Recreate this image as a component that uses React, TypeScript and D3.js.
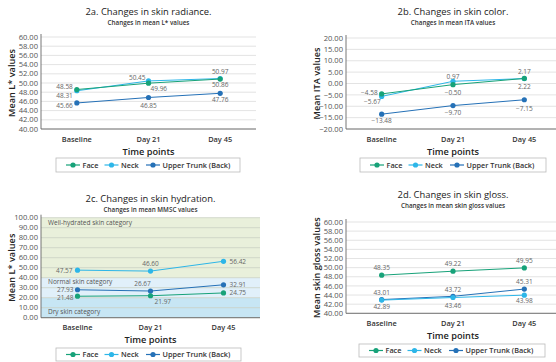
import React from "react";
import * as d3 from "d3";

const timePoints = ["Baseline", "Day 21", "Day 45"];
const seriesNames = ["Face", "Neck", "Upper Trunk (Back)"];
const seriesColors = ["#17a279", "#2db6e8", "#2571b7"];

// 2a. radiance (mean L*)
const radianceFace = [48.58, 49.96, 50.86];
const radianceNeck = [48.31, 50.45, 50.97];
const radianceTrunk = [45.66, 46.85, 47.76];
const radianceTicks = [40, 42, 44, 46, 48, 50, 52, 54, 56, 58, 60];

// 2b. color (mean ITA)
const colorFace = [-4.58, -0.5, 2.22];
const colorNeck = [-5.67, 0.97, 2.17];
const colorTrunk = [-13.48, -9.7, -7.15];
const colorTicks = [-20, -15, -10, -5, 0, 5, 10, 15, 20];

// 2c. hydration (mean MMSC)
const hydrationFace = [21.48, 21.97, 24.75];
const hydrationNeck = [47.57, 46.6, 56.42];
const hydrationTrunk = [27.93, 26.67, 32.91];
const hydrationTicks = [0, 10, 20, 30, 40, 50, 60, 70, 80, 90, 100];
const hydrationCategories = ["Dry skin category", "Normal skin category", "Well-hydrated skin category"];
const hydrationLimits = [0, 20, 40, 100];

// 2d. gloss
const glossFace = [48.35, 49.22, 49.95];
const glossNeck = [42.89, 43.46, 43.98];
const glossTrunk = [43.01, 43.72, 45.31];
const glossTicks = [40, 42, 44, 46, 48, 50, 52, 54, 56, 58, 60];

const FONT = "'Open Sans', sans-serif";
const fmt = d3.format(".2f");

type Pos = [number, number, string]; // dx, dy, anchor

const panels = [
  {
    title: "2a. Changes in skin radiance.",
    subtitle: "Changes in mean L* values",
    yTitle: "Mean L* values",
    series: [radianceFace, radianceNeck, radianceTrunk],
    ticks: radianceTicks,
    left: 41, right: 256, top: 37, bottom: 129,
    titleY: 15, subY: 25, xTickY: 139, xTitleY: 152, yTitleX: 12,
    legend: [56, 158, 184, 14],
    labels: [
      [[-4, -2.5, "end"], [2, 6, "start"], [0, 6, "middle"]],
      [[-4, 5, "end"], [-3, -3, "end"], [0, -7, "middle"]],
      [[-4, 3, "end"], [0, 8, "middle"], [0, 6, "middle"]],
    ] as Pos[][],
  },
  {
    title: "2b. Changes in skin color.",
    subtitle: "Changes in mean ITA values",
    yTitle: "Mean ITA values",
    series: [colorFace, colorNeck, colorTrunk],
    ticks: colorTicks,
    left: 346, right: 560, top: 38, bottom: 129,
    titleY: 15, subY: 25, xTickY: 139, xTitleY: 152, yTitleX: 317,
    legend: [360, 158, 186, 14],
    labels: [
      [[-4, -1, "end"], [0, 8, "middle"], [0, 8, "middle"]],
      [[-1, 5, "end"], [0, -5, "middle"], [0, -7, "middle"]],
      [[0, 7, "middle"], [0, 7, "middle"], [0, 9, "middle"]],
    ] as Pos[][],
  },
  {
    title: "2c. Changes in skin hydration.",
    subtitle: "Changes in mean MMSC values",
    yTitle: "Mean L* values",
    series: [hydrationFace, hydrationNeck, hydrationTrunk],
    ticks: hydrationTicks,
    left: 41, right: 260, top: 217.7, bottom: 317.7,
    titleY: 202, subY: 212, xTickY: 327, xTitleY: 340, yTitleX: 12,
    legend: [56, 348, 185, 13],
    bands: true,
    labels: [
      [[-4, 1.5, "end"], [4, 6, "start"], [6, 0, "start"]],
      [[-5, 1, "end"], [0, -7, "middle"], [6, 0, "start"]],
      [[-4, 0, "end"], [-8, -7, "middle"], [6, 0, "start"]],
    ] as Pos[][],
  },
  {
    title: "2d. Changes in skin gloss.",
    subtitle: "Changes in mean skin gloss values",
    yTitle: "Mean skin gloss values",
    series: [glossFace, glossNeck, glossTrunk],
    ticks: glossTicks,
    left: 346, right: 560, top: 222, bottom: 313.3,
    titleY: 198, subY: 208, xTickY: 323, xTitleY: 336, yTitleX: 317,
    legend: [359, 344, 186, 13],
    labels: [
      [[0, -7, "middle"], [0, -7, "middle"], [0, -7, "middle"]],
      [[0, 7, "middle"], [0, 8, "middle"], [0, 6, "middle"]],
      [[0, -7, "middle"], [0, -7, "middle"], [0, -7, "middle"]],
    ] as Pos[][],
  },
];

function Panel({ cfg }: { cfg: any }) {
  const y = d3
    .scaleLinear()
    .domain([cfg.ticks[0], cfg.ticks[cfg.ticks.length - 1]])
    .range([cfg.bottom, cfg.top]);
  const x = d3
    .scalePoint<string>()
    .domain(timePoints)
    .range([cfg.left, cfg.right])
    .padding(0.5);
  const line = d3
    .line<number>()
    .x((_, i) => x(timePoints[i]) as number)
    .y((d) => y(d));
  const cx = (cfg.left + cfg.right) / 2;
  const [lx, ly, lw, lh] = cfg.legend;
  const legendOffsets = [10, 48.5, 90];
  const bandColors = ["#c7e6f4", "#e1f0fa", "#e9f0db"];
  // where each category caption sits: dry at the bottom of its band, the others at the top
  const captionY = (i: number) =>
    i === 0 ? y(hydrationLimits[0]) - 6 : y(hydrationLimits[i + 1]) + (i === 1 ? 4.5 : 5.5);

  return (
    <g fontFamily={FONT}>
      <text x={cx} y={cfg.titleY} textAnchor="middle" fontSize={9.4} fill="#222">
        {cfg.title}
      </text>
      <text x={cx} y={cfg.subY} textAnchor="middle" fontSize={6.3} fontWeight={600} fill="#333">
        {cfg.subtitle}
      </text>

      {cfg.bands &&
        hydrationCategories.map((c, i) => (
          <rect
            key={c}
            x={cfg.left}
            width={cfg.right - cfg.left}
            y={y(hydrationLimits[i + 1])}
            height={y(hydrationLimits[i]) - y(hydrationLimits[i + 1])}
            fill={bandColors[i]}
          />
        ))}

      {cfg.ticks.map((t: number) => (
        <g key={t}>
          <line
            x1={cfg.left}
            x2={cfg.right}
            y1={y(t)}
            y2={y(t)}
            stroke={cfg.bands ? "#c9cfc4" : "#dcdcdc"}
            strokeWidth={0.8}
          />
          <text
            x={cfg.left - 3}
            y={y(t)}
            dy="0.35em"
            textAnchor="end"
            fontSize={7.6}
            fill="#555"
          >
            {fmt(t)}
          </text>
        </g>
      ))}

      {cfg.bands &&
        hydrationCategories.map((c, i) => (
          <text key={c} x={cfg.left + 7} y={captionY(i)} dy="0.35em" fontSize={6.5} fill="#555">
            {c}
          </text>
        ))}

      <line x1={cfg.left} x2={cfg.left} y1={cfg.top - 3} y2={cfg.bottom} stroke="#666" strokeWidth={0.9} />
      <line x1={cfg.left} x2={cfg.right} y1={cfg.bottom} y2={cfg.bottom} stroke="#666" strokeWidth={0.9} />

      {timePoints.map((t) => (
        <text
          key={t}
          x={x(t)}
          y={cfg.xTickY}
          dy="0.35em"
          textAnchor="middle"
          fontSize={7.4}
          fontWeight={600}
          fill="#333"
        >
          {t}
        </text>
      ))}
      <text x={cx} y={cfg.xTitleY} dy="0.35em" textAnchor="middle" fontSize={9.2} fontWeight={600} fill="#222">
        Time points
      </text>
      <text
        transform={`translate(${cfg.yTitleX},${(cfg.top + cfg.bottom) / 2}) rotate(-90)`}
        textAnchor="middle"
        dy="0.35em"
        fontSize={9.2}
        fontWeight={600}
        fill="#222"
      >
        {cfg.yTitle}
      </text>

      {[2, 1, 0].map((s) => (
        <g key={s}>
          <path d={line(cfg.series[s]) as string} fill="none" stroke={seriesColors[s]} strokeWidth={1} />
          {cfg.series[s].map((v: number, i: number) => (
            <circle key={i} cx={x(timePoints[i])} cy={y(v)} r={2.6} fill={seriesColors[s]} />
          ))}
        </g>
      ))}

      {cfg.series.map((vals: number[], s: number) =>
        vals.map((v, i) => {
          const [dx, dy, anchor] = cfg.labels[s][i];
          return (
            <text
              key={`${s}-${i}`}
              x={(x(timePoints[i]) as number) + dx}
              y={y(v) + dy}
              dy="0.35em"
              textAnchor={anchor}
              fontSize={6.5}
              fill="#666"
            >
              {fmt(v)}
            </text>
          );
        })
      )}

      <rect x={lx} y={ly} width={lw} height={lh} fill="#fff" stroke="#bbb" strokeWidth={0.8} />
      {seriesNames.map((n, s) => {
        const ox = lx + legendOffsets[s];
        const oy = ly + lh / 2;
        return (
          <g key={n}>
            <line x1={ox} x2={ox + 14} y1={oy} y2={oy} stroke={seriesColors[s]} strokeWidth={1.2} />
            <circle cx={ox + 7} cy={oy} r={2.6} fill={seriesColors[s]} />
            <text x={ox + 16.5} y={oy} dy="0.35em" fontSize={7.3} fontWeight={600} fill="#333">
              {n}
            </text>
          </g>
        );
      })}
    </g>
  );
}

export default function App() {
  return (
    <svg
      width={556}
      height={362}
      style={{ position: "absolute", left: 0, top: 0, background: "#fff" }}
    >
      {panels.map((p) => (
        <Panel key={p.title} cfg={p} />
      ))}
    </svg>
  );
}
